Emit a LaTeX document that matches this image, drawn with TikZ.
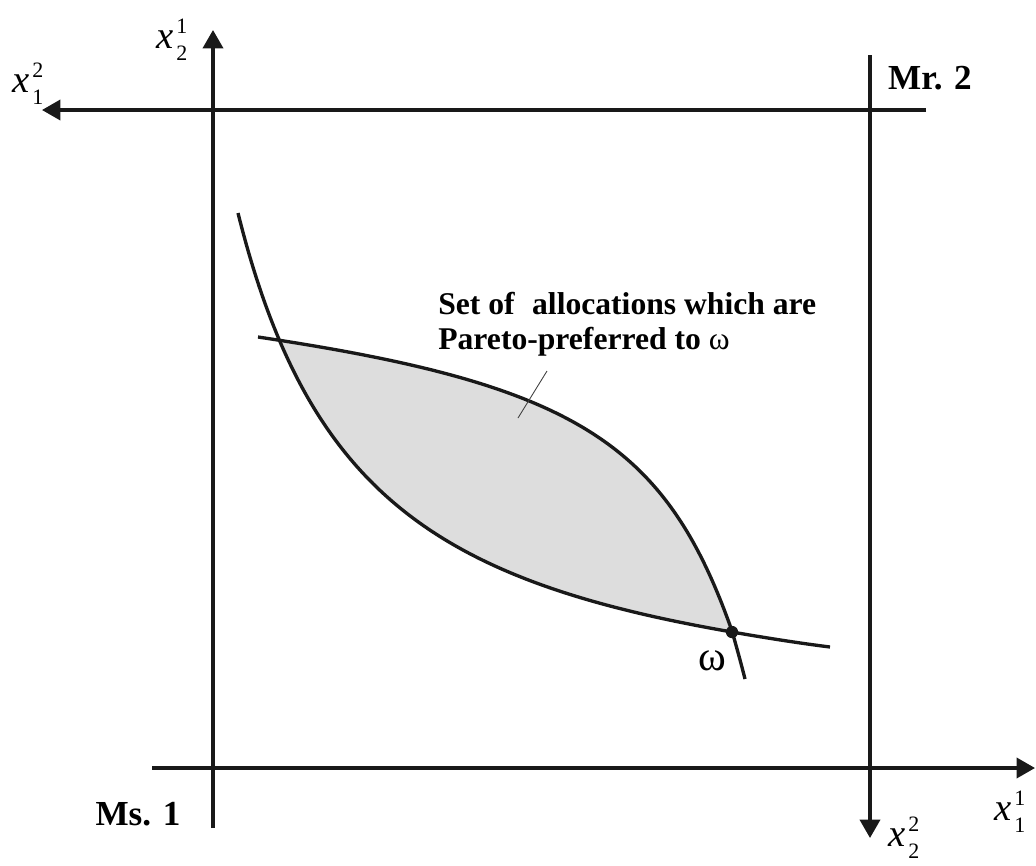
\documentclass[tikz,border=0pt]{standalone}
\usepackage{fontspec}
\setmainfont{Liberation Serif}
\usetikzlibrary{arrows.meta}
\newcommand{\xsb}[2]{\textit{x}\kern1.5pt\makebox[0pt][l]{\raisebox{8.5pt}{\fontsize{12.5}{12.5}\selectfont #1}}\raisebox{-7pt}{\fontsize{12.5}{12.5}\selectfont #2}}
\definecolor{lensgray}{RGB}{221,221,221}
\tikzset{
  axisline/.style={line width=1.9pt, color=black!90, -{Triangle[width=11.5pt,length=10.5pt]}},
  icurve/.style={line width=1.9pt, color=black!90},
  pointer/.style={line width=0.5pt, color=black!75},
  xlabel/.style={font=\fontsize{22}{22}\selectfont, inner sep=0pt},
  agent/.style={font=\fontsize{20}{20}\selectfont\bfseries, inner sep=0pt},
  settext/.style={font=\fontsize{18}{19.8}\selectfont\bfseries, align=left, inner sep=0pt},
}
\begin{document}
\begin{tikzpicture}[x=0.02cm,y=-0.02cm]
\path[use as bounding box] (0,0) rectangle (1036,866);
% axis end points
\coordinate (v1b) at (213,828);
\coordinate (v1t) at (213,30);
\coordinate (h1l) at (152,768);
\coordinate (h1r) at (1035,768);
\coordinate (v2t) at (870,55);
\coordinate (v2b) at (870,838);
\coordinate (h2r) at (926,110);
\coordinate (h2l) at (42,110);
\coordinate (lowend) at (830,647);
\coordinate (upend) at (745,679);
% lens fill
\begin{scope}
  \clip (258,337) .. controls (574.5,384.4) and (665.6,442.4) .. (732,631)
     -- (745,679) -- (745,866) -- (0,866) -- (0,337) -- cycle;
  \clip (238,213) .. controls (308,494) and (438,581) .. (732,632)
     -- (830,647) -- (1036,647) -- (1036,0) -- (238,0) -- cycle;
  \fill[lensgray] (0,0) rectangle (1036,866);
\end{scope}
% indifference curves
\draw[icurve] (238,213) .. controls (308,494) and (438,581) .. (732,632)
   .. controls (765,637.7) and (798,643) .. (lowend);
\draw[icurve] (258,337) .. controls (574.5,384.4) and (665.6,442.4) .. (732,631)
   .. controls (736.5,647) and (741,663) .. (upend);
\node[circle, fill=black!90, inner sep=0pt, minimum size=7pt] (w) at (732,632) {};
% axes
\draw[axisline] (v1b) -- (v1t);
\draw[axisline] (h1l) -- (h1r);
\draw[axisline] (v2t) -- (v2b);
\draw[axisline] (h2r) -- (h2l);
% labels
\node[xlabel] (x21) at (172,40) {\xsb{1}{2}};
\node[xlabel] (x12a) at (28,84) {\xsb{2}{1}};
\node[xlabel] (x11) at (1010,812) {\xsb{1}{1}};
\node[xlabel] (x22) at (904,838) {\xsb{2}{2}};
\node[agent] (mr2) at (930,78) {Mr. 2};
\node[agent] (ms1) at (138,814) {Ms. 1};
\node[font=\fontsize{24}{24}\selectfont, inner sep=0pt] (wlab) at (712,661) {ω};
\node[settext, anchor=north west] (set) at (438,292) {Set of\hspace{0.3em} allocations which are\\Pareto-preferred to {\mdseries ω}};
\coordinate (pa) at (518,418);
\coordinate (pb) at (547,371);
\draw[pointer] (pa) -- (pb);
\end{tikzpicture}
\end{document}
